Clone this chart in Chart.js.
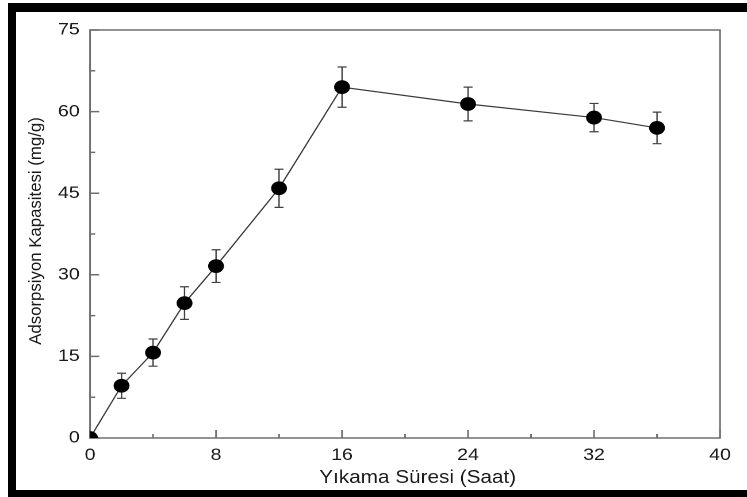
<!DOCTYPE html>
<html>
<head>
<meta charset="utf-8">
<script src="https://cdn.jsdelivr.net/npm/chart.js@4/dist/chart.umd.min.js"></script>
<style>
  html, body { margin: 0; padding: 0; background: #fff; }
  body { width: 747px; height: 497px; position: relative; overflow: hidden; }
  #plot { position: absolute; left: 0; top: 0; width: 650px; height: 497px;
          transform: scaleX(1.15); transform-origin: 0 0; }
  .bar { position: absolute; background: #000; }
</style>
</head>
<body>
<div id="plot"><canvas id="c" width="650" height="497"></canvas></div>
<div class="bar" style="left:8px;top:3px;width:739px;height:8.5px"></div>
<div class="bar" style="left:8px;top:3px;width:8px;height:494px"></div>
<div class="bar" style="left:8px;top:490px;width:739px;height:7px"></div>
<script>
// Washing time (hours) vs. adsorption capacity (mg/g) with standard deviations
const hours    = [0, 2, 4, 6, 8, 12, 16, 24, 32, 36];
const capacity = [0, 9.6, 15.7, 24.8, 31.6, 45.9, 64.5, 61.4, 58.9, 57.0];
const stdDev   = [0, 2.3, 2.5, 3.0, 3.0, 3.5, 3.7, 3.1, 2.6, 2.9];

const xTickValues  = [0, 8, 16, 24, 32, 40];
const xMinorValues = [4, 12, 20, 28, 36];
const yTickValues  = [0, 15, 30, 45, 60, 75];
const yMinorValues = [7.5, 22.5, 37.5, 52.5, 67.5];

const xTitle = 'Yıkama Süresi (Saat)';
const yTitle = 'Adsorpsiyon Kapasitesi (mg/g)';

const STRETCH = 1.15;
const FONT = '"Liberation Sans", Arial, sans-serif';
const AXIS_COLOR = '#6f6f6f';

// Plot frame, inward tick marks and error bars, drawn beneath the markers
const framePlugin = {
  id: 'frameAndErrors',
  beforeDatasetsDraw(chart) {
    const { ctx, chartArea: a, scales: { x, y } } = chart;
    ctx.save();
    ctx.strokeStyle = AXIS_COLOR;
    ctx.lineWidth = 1.5;
    ctx.strokeRect(a.left, a.top, a.right - a.left, a.bottom - a.top);
    ctx.beginPath();
    xTickValues.forEach(v => { const px = x.getPixelForValue(v); ctx.moveTo(px, a.bottom); ctx.lineTo(px, a.bottom - 8); });
    xMinorValues.forEach(v => { const px = x.getPixelForValue(v); ctx.moveTo(px, a.bottom); ctx.lineTo(px, a.bottom - 4); });
    yTickValues.forEach(v => { const py = y.getPixelForValue(v); ctx.moveTo(a.left, py); ctx.lineTo(a.left + 8, py); });
    yMinorValues.forEach(v => { const py = y.getPixelForValue(v); ctx.moveTo(a.left, py); ctx.lineTo(a.left + 4.5, py); });
    ctx.stroke();

    // error bars
    ctx.strokeStyle = '#404040';
    ctx.lineWidth = 1.2;
    ctx.beginPath();
    hours.forEach((h, i) => {
      if (!stdDev[i]) return;
      const px = x.getPixelForValue(h);
      const top = y.getPixelForValue(capacity[i] + stdDev[i]);
      const bot = y.getPixelForValue(capacity[i] - stdDev[i]);
      const cap = 3.9;
      ctx.moveTo(px, top); ctx.lineTo(px, bot);
      ctx.moveTo(px - cap, top); ctx.lineTo(px + cap, top);
      ctx.moveTo(px - cap, bot); ctx.lineTo(px + cap, bot);
    });
    ctx.stroke();
    ctx.restore();
  },
  afterDraw(chart) {
    const { ctx, chartArea: a } = chart;
    ctx.save();
    ctx.fillStyle = '#1a1a1a';
    ctx.textAlign = 'center';
    ctx.textBaseline = 'middle';
    ctx.font = '18px ' + FONT;
    ctx.fillText(xTitle, (a.left + a.right) / 2 + 11, a.bottom + 40);

    ctx.translate(31.3, (a.top + a.bottom) / 2 - 3);
    ctx.scale(1 / STRETCH, 1);
    ctx.rotate(-Math.PI / 2);
    ctx.font = '16.8px ' + FONT;
    ctx.fillText(yTitle, 0, 0);
    ctx.restore();
  }
};

new Chart(document.getElementById('c'), {
  type: 'line',
  data: {
    datasets: [{
      data: hours.map((h, i) => ({ x: h, y: capacity[i] })),
      borderColor: '#3a3a3a',
      borderWidth: 1.2,
      pointRadius: 6.9,
      pointHoverRadius: 6.9,
      pointBackgroundColor: '#000',
      pointBorderColor: '#000',
      pointBorderWidth: 0,
      tension: 0
    }]
  },
  options: {
    responsive: false,
    animation: false,
    devicePixelRatio: 2,
    layout: { padding: { top: 30, right: 23.9, left: 0, bottom: 0 } },
    plugins: { legend: { display: false }, tooltip: { enabled: false } },
    scales: {
      x: {
        type: 'linear',
        min: 0, max: 40,
        afterBuildTicks: s => { s.ticks = xTickValues.map(v => ({ value: v })); },
        afterFit: s => { s.height = 59; },
        grid: { display: false, drawTicks: false },
        border: { display: false },
        ticks: { padding: 7, color: '#1a1a1a', font: { family: FONT, size: 17 }, maxRotation: 0 }
      },
      y: {
        type: 'linear',
        min: 0, max: 75,
        afterBuildTicks: s => { s.ticks = yTickValues.map(v => ({ value: v })); },
        afterFit: s => { s.width = 78.3; },
        grid: { display: false, drawTicks: false },
        border: { display: false },
        ticks: { padding: 9, color: '#1a1a1a', font: { family: FONT, size: 17 } }
      }
    }
  },
  plugins: [framePlugin]
});
</script>
</body>
</html>
